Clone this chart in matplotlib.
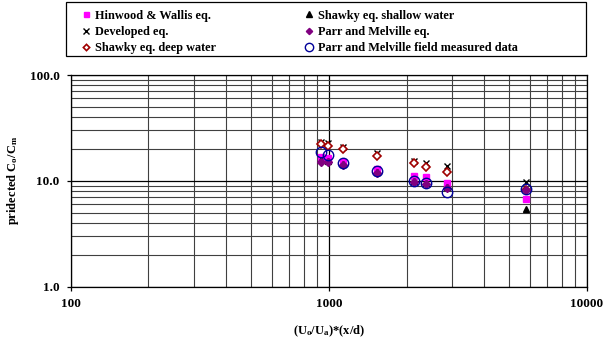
import matplotlib
matplotlib.use('Agg')
import matplotlib.pyplot as plt
from matplotlib.ticker import FixedLocator, LogLocator, NullFormatter
from matplotlib.patches import Rectangle

plt.rcParams['font.family'] = 'Liberation Serif'
plt.rcParams['font.weight'] = 'bold'
plt.rcParams['axes.labelweight'] = 'bold'
plt.rcParams['mathtext.fontset'] = 'custom'
plt.rcParams['mathtext.rm'] = 'Liberation Serif:bold'
plt.rcParams['mathtext.it'] = 'Liberation Serif:bold'
plt.rcParams['mathtext.bf'] = 'Liberation Serif:bold'

# x = (Uo/Ua)*(x/d)
x = [930, 990, 1130, 1540, 2140, 2375, 2860, 5800]

hinwood = [16.7, 16.4, 15.0, 12.9, 11.1, 10.8, 9.5, 6.7]
developed = [23.5, 22.7, 21.0, 18.2, 15.5, 14.7, 13.8, 9.8]
shawky_deep = [22.3, 21.5, 20.0, 17.2, 14.6, 13.6, 12.2, 8.2]
shawky_shallow = [15.6, 15.3, 14.5, 12.0, 10.0, 9.5, 8.8, 5.4]
parr_eq = [15.2, 15.0, 14.1, 11.8, 9.8, 9.3, 8.5, 8.2]
parr_field = [18.9, 17.6, 14.9, 12.5, 9.9, 9.5, 7.9, 8.3]

fig = plt.figure(figsize=(6.08, 3.48), dpi=100)
ax = fig.add_axes([70.7/608, 1-286.7/348, (587-70.7)/608, (286.7-75)/348])

ax.plot(x, hinwood, 's', color='#FF00FF', ms=4.5, label='Hinwood & Wallis eq.')
ax.plot(x, developed, 'x', color='black', ms=5, mew=1, label='Developed eq.')
ax.plot(x, shawky_deep, 'D', mfc='white', mec='#A00000', ms=4, mew=1.2,
        label='Shawky eq. deep water')
ax.plot(x, shawky_shallow, '^', color='black', ms=5, label='Shawky eq. shallow water')
ax.plot(x, parr_eq, 'D', color='#800080', ms=4, label='Parr and Melville eq.')
ax.plot(x, parr_field, 'o', mfc='none', mec='#000099', ms=7.5, mew=1,
        label='Parr and Melville field measured data')

ax.set_xscale('log')
ax.set_yscale('log')
ax.set_xlim(100, 10000)
ax.set_ylim(1, 100)

ax.xaxis.set_major_locator(FixedLocator([100, 1000, 10000]))
ax.yaxis.set_major_locator(FixedLocator([1, 10, 100]))
ax.xaxis.set_minor_locator(LogLocator(base=10, subs=range(2, 10)))
ax.yaxis.set_minor_locator(LogLocator(base=10, subs=range(2, 10)))
ax.xaxis.set_minor_formatter(NullFormatter())
ax.yaxis.set_minor_formatter(NullFormatter())
ax.set_xticks([100, 1000, 10000])
ax.set_xticklabels(['100', '1000', '10000'], fontweight='bold')
ax.set_yticks([1, 10, 100])
ax.set_yticklabels(['1.0', '10.0', '100.0'], fontweight='bold')

ax.grid(True, which='major', color='black', lw=0.9)
ax.grid(True, which='minor', color='#404040', lw=0.8)
ax.set_axisbelow(True)
ax.tick_params(which='major', direction='out', length=3, width=0.9,
               labelsize=9.5, pad=5)
ax.tick_params(which='minor', length=0)
for s in ax.spines.values():
    s.set_color('black')
    s.set_linewidth(0.9)

ax.set_ylabel('pridected C$_o$/C$_m$', fontsize=9, fontweight='bold', labelpad=6)
ax.set_xlabel('(U$_o$/U$_a$)*(x/d)', fontsize=9, fontweight='bold', labelpad=10)

handles, labels = ax.get_legend_handles_labels()
leg = fig.legend(handles, labels, loc='upper left', ncol=2, frameon=False,
                 bbox_to_anchor=(74/608, 1-1/348),
                 prop={'family': 'Liberation Serif', 'weight': 'bold', 'size': 8.8},
                 handlelength=0.6, handletextpad=0.45, columnspacing=7.3,
                 labelspacing=0.35, borderpad=0.2, markerscale=0.8)
fig.patches.append(Rectangle((65.7/608, 1-56/348), (586-65.7)/608, 54/348,
                             transform=fig.transFigure, fill=False,
                             edgecolor='black', lw=0.9))

fig.savefig('out.png', dpi=100)
